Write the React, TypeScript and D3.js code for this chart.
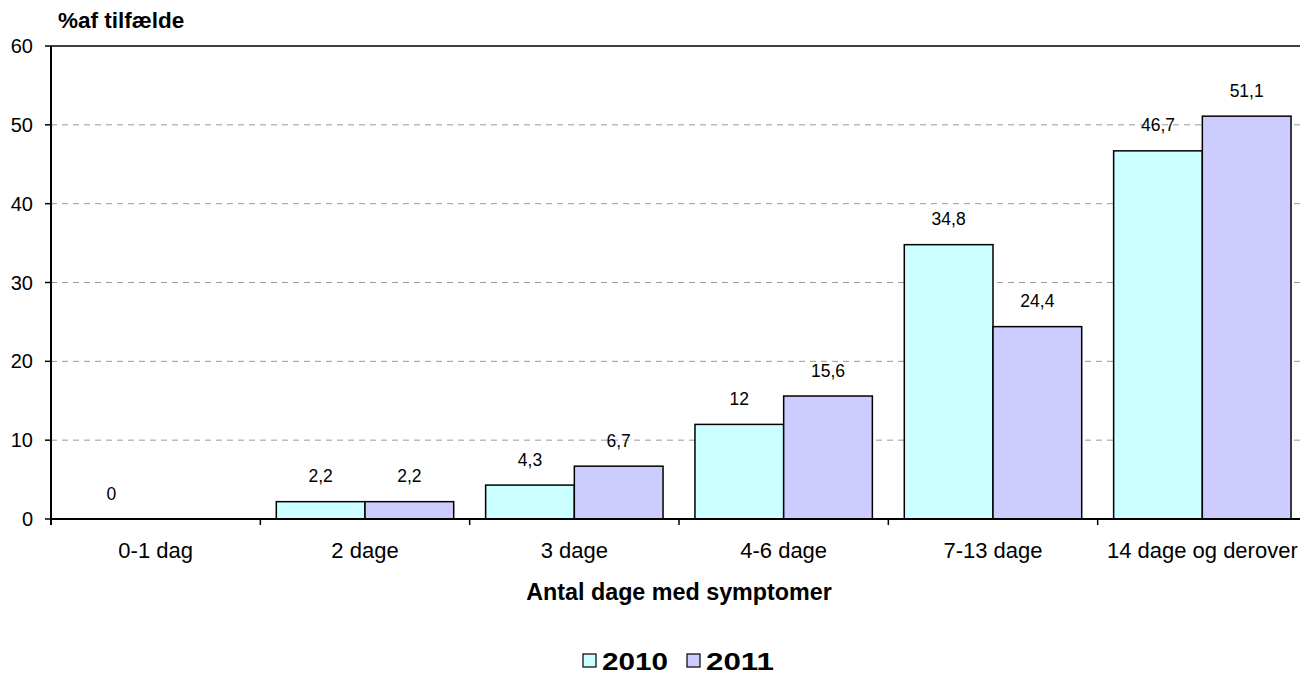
import React from "react";
import * as d3 from "d3";

const categories = ["0-1 dag", "2 dage", "3 dage", "4-6 dage", "7-13 dage", "14 dage og derover"];
const values2010 = [0, 2.2, 4.3, 12, 34.8, 46.7];
const values2011 = [null, 2.2, 6.7, 15.6, 24.4, 51.1];
const seriesNames = ["2010", "2011"];
const seriesColors = ["#CCFFFF", "#CCCCFF"];
const yTicks = [0, 10, 20, 30, 40, 50, 60];

const W = 1300;
const H = 676;
const left = 51;
const right = 1307;
const top = 46;
const bottom = 519;
const font = "Arial, 'Liberation Sans', sans-serif";

const fmt = (v: number) => String(v).replace(".", ",");

export default function App() {
  const x = d3.scaleBand<string>().domain(categories).range([left, right]).paddingInner(0).paddingOuter(0);
  const y = d3.scaleLinear().domain([0, 60]).range([bottom, top]);
  const inner = d3.scaleBand<string>().domain(seriesNames).range([0, x.bandwidth()]).paddingOuter(0.18).paddingInner(0);
  const series = [values2010, values2011];
  const legendX = [583, 687];
  const legendTextW = [66, 68];

  return (
    <svg width={W} height={H} style={{ position: "absolute", left: 0, top: 0, background: "#fff" }}>
      {/* gridlines */}
      {yTicks.filter((t) => t > 0 && t < 60).map((t) => (
        <line key={t} x1={left} x2={right} y1={y(t)} y2={y(t)} stroke="#999" strokeWidth={1} strokeDasharray="6,5" />
      ))}
      {/* top border */}
      <line x1={left} x2={right} y1={top} y2={top} stroke="#000" strokeWidth={1.5} />
      {/* bars */}
      {categories.map((c, i) => (
        <g key={c}>
          {series.map((s, k) => {
            const v = s[i];
            if (v === null || v === undefined) return null;
            const bx = (x(c) as number) + (inner(seriesNames[k]) as number);
            return v > 0 ? (
              <rect key={k} x={bx} y={y(v)} width={inner.bandwidth()} height={y(0) - y(v)} fill={seriesColors[k]} stroke="#000" strokeWidth={1.5} />
            ) : null;
          })}
          {series.map((s, k) => {
            const v = s[i];
            if (v === null || v === undefined) return null;
            const bx = (x(c) as number) + (inner(seriesNames[k]) as number) + inner.bandwidth() / 2;
            return (
              <text key={"l" + k} x={bx} y={y(v) - 19.5} textAnchor="middle" fontFamily={font} fontSize={17.5} fill="#000">
                {fmt(v)}
              </text>
            );
          })}
        </g>
      ))}
      {/* axes */}
      <line x1={left} x2={right} y1={bottom} y2={bottom} stroke="#000" strokeWidth={2} />
      <line x1={left} x2={left} y1={top} y2={bottom + 6} stroke="#000" strokeWidth={2} />
      {yTicks.map((t) => (
        <g key={t}>
          <line x1={left - 6} x2={left} y1={y(t)} y2={y(t)} stroke="#000" strokeWidth={1.5} />
          <text x={33} y={y(t) + 7} textAnchor="end" fontFamily={font} fontSize={20} fill="#000">{t}</text>
        </g>
      ))}
      {categories.map((c, i) => (
        <g key={c}>
          {i > 0 && <line x1={x(c)} x2={x(c)} y1={bottom} y2={bottom + 6} stroke="#000" strokeWidth={1.5} />}
          <text x={(x(c) as number) + x.bandwidth() / 2} y={558} textAnchor="middle" fontFamily={font} fontSize={22} fill="#000">{c}</text>
        </g>
      ))}
      <text x={58} y={28} fontFamily={font} fontSize={22.5} fontWeight="bold" fill="#000">%af tilfælde</text>
      <text x={679} y={600} textAnchor="middle" fontFamily={font} fontSize={23.3} fontWeight="bold" fill="#000">Antal dage med symptomer</text>
      {/* legend */}
      {seriesNames.map((n, k) => {
        const lx = legendX[k];
        return (
          <g key={n}>
            <rect x={lx} y={654} width={13} height={13} fill={seriesColors[k]} stroke="#000" strokeWidth={1.2} />
            <text x={lx + 19} y={670} fontFamily={font} fontSize={23} fontWeight="bold" fill="#000" textLength={legendTextW[k]} lengthAdjust="spacingAndGlyphs">{n}</text>
          </g>
        );
      })}
    </svg>
  );
}
